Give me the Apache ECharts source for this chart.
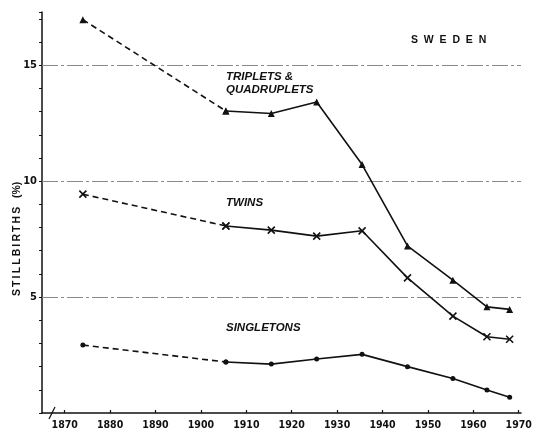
<!DOCTYPE html>
<html>
<head>
<meta charset="utf-8">
<script src="https://cdn.jsdelivr.net/npm/echarts@6/dist/echarts.min.js"></script>
<style>html,body{margin:0;padding:0;background:#fff}#c{width:539px;height:435px}</style>
</head>
<body>
<div id="c"></div>
<script>
// ---- data ----
var years = [1874, 1905.5, 1915.5, 1925.5, 1935.5, 1945.5, 1955.5, 1963, 1968];
var triplets = [16.97, 13.03, 12.92, 13.42, 10.72, 7.21, 5.73, 4.58, 4.47];
var twins = [9.44, 8.07, 7.89, 7.63, 7.86, 5.83, 4.18, 3.29, 3.18];
var singletons = [2.93, 2.20, 2.11, 2.33, 2.53, 2.00, 1.49, 0.99, 0.68];
var xTicks = [1870, 1880, 1890, 1900, 1910, 1920, 1930, 1940, 1950, 1960, 1970];
var yLabels = [5, 10, 15];
var gridValues = [5, 10, 15];

var INK = '#111';
var tickFont = '"Liberation Sans Narrow","DejaVu Sans Condensed","Liberation Sans",sans-serif';
var crossPath = 'path://M0,0L10,10M10,0L0,10';

function pairs(vals, from, to) {
  var out = [];
  for (var i = from; i <= to; i++) out.push([years[i], vals[i]]);
  return out;
}

var groups = [
  { name: 'Triplets & quadruplets', vals: triplets, symbol: 'triangle', size: 7 },
  { name: 'Twins', vals: twins, symbol: crossPath, size: 7 },
  { name: 'Singletons', vals: singletons, symbol: 'circle', size: 5 }
];

var series = [];
groups.forEach(function (g, gi) {
  series.push({
    name: g.name + ' (early)',
    type: 'line',
    data: pairs(g.vals, 0, 1),
    symbol: g.symbol, symbolSize: g.size,
    lineStyle: { color: INK, width: 1.6, type: [6, 4] },
    itemStyle: { color: INK, borderColor: INK, borderWidth: g.symbol === crossPath ? 1.6 : 0 },
    z: 3, silent: true
  });
  var s = {
    name: g.name,
    type: 'line',
    data: pairs(g.vals, 1, years.length - 1),
    symbol: g.symbol, symbolSize: g.size,
    lineStyle: { color: INK, width: 1.6 },
    itemStyle: { color: INK, borderColor: INK, borderWidth: g.symbol === crossPath ? 1.6 : 0 },
    z: 3, silent: true
  };
  if (gi === 0) {
    s.markLine = {
      silent: true, symbol: 'none', label: { show: false },
      lineStyle: { color: '#8a8a8a', width: 1, type: [16, 3, 3, 3] },
      data: gridValues.map(function (v) { return { yAxis: v }; }),
      z: 1
    };
  }
  series.push(s);
});

var labelFont = 'italic bold 11.5px "Liberation Sans", sans-serif';
var ts = '\u2009';
var yTitle = 'STILLBIRTHS'.split('').join(ts) + '   (%)';

var chart = echarts.init(document.getElementById('c'), null, { renderer: 'canvas' });
chart.setOption({
  backgroundColor: '#fff',
  animation: false,
  grid: { left: 42, right: 18, top: 12, bottom: 22 },
  xAxis: {
    type: 'value', min: 1865, max: 1970.5,
    axisLine: { show: true, lineStyle: { color: INK, width: 1.5 } },
    axisTick: { show: true, inside: true, length: 3, customValues: xTicks, lineStyle: { color: INK, width: 1.2 } },
    axisLabel: {
      customValues: xTicks, color: INK, fontFamily: tickFont, fontWeight: 'bold', fontSize: 10.5, margin: 7,
      formatter: function (v) { return String(Math.round(v)); }
    },
    splitLine: { show: false }
  },
  yAxis: {
    type: 'value', min: 0, max: 17.3, interval: 1,
    axisLine: { show: true, lineStyle: { color: INK, width: 1.5 } },
    axisTick: { show: true, inside: false, length: 3, lineStyle: { color: INK, width: 1 } },
    axisLabel: {
      color: INK, fontFamily: tickFont, fontWeight: 'bold', fontSize: 11, margin: 5,
      formatter: function (v) { return yLabels.indexOf(v) >= 0 ? String(v) : ''; }
    },
    splitLine: { show: false }
  },
  graphic: [
    { type: 'text', left: 411, top: 35, style: { text: 'S  W  E  D  E  N', fill: INK, font: 'bold 10.5px "Liberation Sans", sans-serif' } },
    { type: 'text', left: 226, top: 71, style: { text: 'TRIPLETS &', fill: INK, font: labelFont } },
    { type: 'text', left: 226, top: 84, style: { text: 'QUADRUPLETS', fill: INK, font: labelFont } },
    { type: 'text', left: 226, top: 197, style: { text: 'TWINS', fill: INK, font: labelFont } },
    { type: 'text', left: 226, top: 322, style: { text: 'SINGLETONS', fill: INK, font: labelFont } },
    { type: 'text', x: 12, y: 296, rotation: Math.PI / 2, style: { text: yTitle, fill: INK, font: 'bold 10.5px "Liberation Sans", sans-serif', textVerticalAlign: 'top' } },
    { type: 'line', shape: { x1: 49, y1: 419, x2: 55, y2: 407 }, style: { stroke: INK, lineWidth: 1.3 } }
  ],
  series: series
});
</script>
</body>
</html>
